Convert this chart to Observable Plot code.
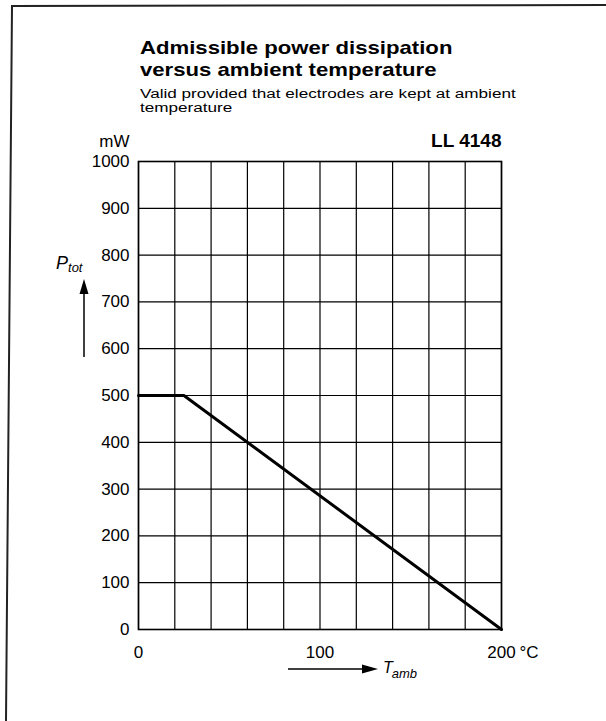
<!DOCTYPE html>
<html><head><meta charset="utf-8">
<script src="https://cdn.jsdelivr.net/npm/d3@7"></script>
<script src="https://cdn.jsdelivr.net/npm/@observablehq/plot@0.6"></script>
<style>
body{margin:0;background:#fff;font-family:"Liberation Sans",Arial,sans-serif;color:#000}
#page{position:relative;width:606px;height:721px;overflow:hidden;background:#fff}
.t{position:absolute;white-space:nowrap;transform-origin:0 0}
#title{left:140px;top:37px;font-weight:bold;font-size:19px;line-height:22px;transform:scaleX(1.165)}
.sub{left:140px;font-size:12.5px;line-height:14px;transform:scaleX(1.37)}
#sub1{top:87px}
#sub2{top:101px}
#chart{position:absolute;left:0;top:130px}
#deco{position:absolute;left:0;top:0}
</style></head>
<body>
<div id="page">
  <div id="title" class="t">Admissible power dissipation<br>versus ambient temperature</div>
  <div id="sub1" class="t sub">Valid provided that electrodes are kept at ambient</div>
  <div id="sub2" class="t sub">temperature</div>
  <div id="chart"></div>
  <svg id="deco" width="606" height="721" font-family="Liberation Sans, Arial, sans-serif">
    <polyline points="6,721 12,6 606,5" fill="none" stroke="#222" stroke-width="2"/>
    <line x1="84" y1="357" x2="84" y2="290" stroke="#000" stroke-width="1.5"/>
    <polygon points="84,279 79.5,294 88.5,294" fill="#000"/>
    <text x="56" y="269" font-size="18" font-style="italic">P<tspan font-size="13" dy="3">tot</tspan></text>
    <line x1="288" y1="669" x2="365" y2="669" stroke="#000" stroke-width="1.5"/>
    <polygon points="378,669 362,664.5 362,673.5" fill="#000"/>
    <text x="383" y="673" font-size="16" font-style="italic">T<tspan font-size="13" dy="5" dx="-1">amb</tspan></text>
  </svg>
</div>
<script>
const temps = [0, 25, 200];
const power = [500, 500, 0];
const xTicks = [0, 100, 200];
const xGrid = [0, 20, 40, 60, 80, 100, 120, 140, 160, 180, 200];
const yTicks = [0, 100, 200, 300, 400, 500, 600, 700, 800, 900, 1000];
const yUnit = ["mW"];
const xUnit = ["°C"];
const device = ["LL 4148"];

const data = temps.map((t, i) => ({t, p: power[i]}));

const chart = Plot.plot({
  width: 606,
  height: 560,
  marginLeft: 138,
  marginRight: 105,
  marginTop: 31,
  marginBottom: 61,
  style: {fontFamily: "Liberation Sans, Arial, sans-serif", fontSize: "17px", color: "#000", background: "transparent", overflow: "visible"},
  x: {domain: [0, 200]},
  y: {domain: [0, 1000]},
  marks: [
    Plot.gridX(xGrid, {stroke: "#000", strokeOpacity: 1, strokeWidth: 1.2}),
    Plot.gridY(yTicks, {stroke: "#000", strokeOpacity: 1, strokeWidth: 1.2}),
    Plot.frame({stroke: "#000", strokeWidth: 1.6}),
    Plot.axisY(yTicks, {tickSize: 0, tickPadding: 9, label: null, tickFormat: d => String(d)}),
    Plot.axisX(xTicks, {tickSize: 0, tickPadding: 16, label: null, tickFormat: d => String(d)}),
    Plot.text(xUnit, {x: () => xTicks[xTicks.length - 1], frameAnchor: "bottom", text: d => d, dx: 18, dy: 16, lineAnchor: "top", textAnchor: "start", fontSize: 17}),
    Plot.text(yUnit, {frameAnchor: "top-left", text: d => d, dx: -9, dy: -20, lineAnchor: "middle", textAnchor: "end", fontSize: 17}),
    Plot.text(device, {frameAnchor: "top-right", text: d => d, dx: 0, dy: -21, lineAnchor: "middle", textAnchor: "end", fontSize: 19, fontWeight: "bold", letterSpacing: "1.8px"}),
    Plot.line(data, {x: "t", y: "p", stroke: "#000", strokeWidth: 3})
  ]
});
document.getElementById("chart").appendChild(chart);
</script>
</body></html>
